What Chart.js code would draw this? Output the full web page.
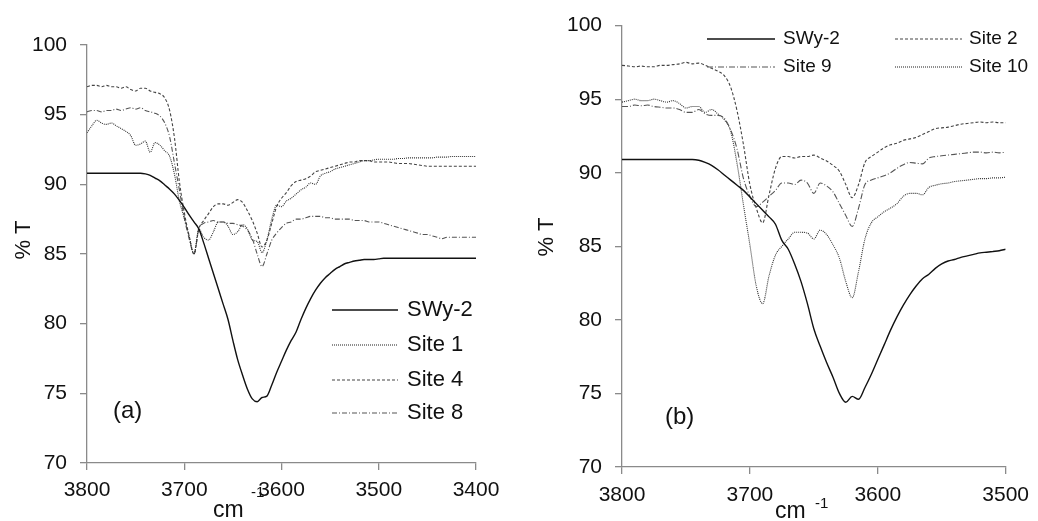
<!DOCTYPE html>
<html>
<head>
<meta charset="utf-8">
<script src="https://cdn.jsdelivr.net/npm/chart.js@4/dist/chart.umd.min.js"></script>
<style>
  html, body { margin: 0; padding: 0; background: #fff; }
  .panel { position: absolute; top: 0; height: 521px; }
  #wrapA { left: 0; width: 520px; }
  #wrapB { left: 520px; width: 518px; }
</style>
</head>
<body>
<div class="panel" id="wrapA"><canvas id="chartA"></canvas></div>
<div class="panel" id="wrapB"><canvas id="chartB"></canvas></div>
<script>
// wavenumbers (cm-1) for panel (a)
const wavenumbersA = [
  3800, 3795, 3790, 3785, 3780, 3775, 3770, 3765, 3760, 3755,
  3750, 3745, 3740, 3735, 3730, 3725, 3720, 3715, 3710, 3705,
  3700, 3695, 3690, 3685, 3680, 3675, 3670, 3665, 3660, 3655,
  3650, 3645, 3640, 3635, 3630, 3625, 3620, 3615, 3610, 3605,
  3600, 3595, 3590, 3585, 3580, 3575, 3570, 3565, 3560, 3555,
  3550, 3545, 3540, 3535, 3530, 3525, 3520, 3515, 3510, 3505,
  3500, 3495, 3490, 3485, 3480, 3475, 3470, 3465, 3460, 3455,
  3450, 3445, 3440, 3435, 3430, 3425, 3420, 3415, 3410, 3405, 3400
];

// % transmittance, panel (a)
const swy2A = [
  90.8, 90.8, 90.8, 90.8, 90.8, 90.8, 90.8, 90.8, 90.8, 90.8,
  90.8, 90.8, 90.75, 90.65, 90.45, 90.25, 89.95, 89.65, 89.3, 88.85,
  88.35, 87.8, 87.3, 86.8, 85.8, 84.7, 83.6, 82.5, 81.4, 80.3,
  78.8, 77.4, 76.3, 75.3, 74.6, 74.4, 74.7, 74.8, 75.6, 76.5,
  77.3, 78.1, 78.8, 79.4, 80.3, 81.1, 81.8, 82.4, 82.9, 83.3,
  83.6, 83.9, 84.1, 84.3, 84.4, 84.5, 84.55, 84.6, 84.6, 84.6,
  84.65, 84.7, 84.7, 84.7, 84.7, 84.7, 84.7, 84.7, 84.7, 84.7,
  84.7, 84.7, 84.7, 84.7, 84.7, 84.7, 84.7, 84.7, 84.7, 84.7, 84.7
];
const site1A = [
  93.7, 94.2, 94.6, 94.4, 94.3, 94.4, 94.2, 94.0, 93.8, 93.5,
  92.8, 92.9, 93.1, 92.3, 93.0, 92.8, 92.4, 92.0, 90.7, 88.8,
  87.6, 86.3, 85.0, 86.8, 86.2, 86.0, 86.6, 87.3, 87.3, 87.0,
  86.4, 86.6, 87.1, 86.8, 86.0, 85.9, 85.1, 86.0, 87.5, 88.5,
  88.4, 88.8, 89.0, 89.3, 89.6, 89.8, 90.1, 90.0, 90.6, 90.8,
  90.9, 91.1, 91.2, 91.3, 91.4, 91.5, 91.6, 91.7, 91.7, 91.75,
  91.8, 91.8, 91.8, 91.8, 91.85, 91.85, 91.9, 91.9, 91.9, 91.9,
  91.9, 91.9, 91.95, 91.95, 91.95, 92.0, 92.0, 92.0, 92.0, 92.0, 92.0
];
const site4A = [
  97.0, 97.1, 97.1, 97.0, 97.1, 97.0, 97.0, 96.9, 97.0, 96.8,
  96.7, 96.9, 96.9, 96.7, 96.6, 96.5, 96.2, 95.3, 93.3, 90.2,
  88.0, 86.3, 85.0, 86.8, 87.4, 87.9, 88.4, 88.6, 88.6, 88.5,
  88.7, 88.9, 88.7, 88.1, 87.4, 86.5, 85.5, 86.0, 87.2, 88.4,
  89.0, 89.4, 89.9, 90.2, 90.3, 90.4, 90.6, 90.9, 91.0, 91.1,
  91.2, 91.3, 91.4, 91.5, 91.6, 91.6, 91.7, 91.7, 91.7, 91.6,
  91.6, 91.6, 91.6, 91.55, 91.5, 91.5, 91.5, 91.45, 91.4, 91.35,
  91.3, 91.3, 91.3, 91.3, 91.3, 91.3, 91.3, 91.3, 91.3, 91.3, 91.3
];
const site8A = [
  95.2, 95.3, 95.3, 95.2, 95.3, 95.3, 95.4, 95.3, 95.4, 95.5,
  95.4, 95.5, 95.3, 95.2, 95.1, 94.9, 94.4, 93.4, 91.5, 89.6,
  87.6, 86.1, 85.0, 86.8, 87.2, 87.3, 87.4, 87.3, 87.3, 87.2,
  87.2, 87.1, 87.0, 86.7, 86.1, 85.0, 84.1, 85.0, 86.0, 86.5,
  86.9, 87.2, 87.3, 87.5, 87.5, 87.6, 87.7, 87.7, 87.7, 87.6,
  87.6, 87.5, 87.5, 87.5, 87.5, 87.4, 87.4, 87.4, 87.3, 87.3,
  87.3, 87.2, 87.1, 87.0, 86.9, 86.8, 86.7, 86.6, 86.5, 86.4,
  86.4, 86.3, 86.2, 86.1, 86.2, 86.2, 86.2, 86.2, 86.2, 86.2, 86.2
];

// wavenumbers (cm-1) for panel (b)
const wavenumbersB = [
  3800, 3795, 3790, 3785, 3780, 3775, 3770, 3765, 3760, 3755,
  3750, 3745, 3740, 3735, 3730, 3725, 3720, 3715, 3710, 3705,
  3700, 3695, 3690, 3685, 3680, 3675, 3670, 3665, 3660, 3655,
  3650, 3645, 3640, 3635, 3630, 3625, 3620, 3615, 3610, 3605,
  3600, 3595, 3590, 3585, 3580, 3575, 3570, 3565, 3560, 3555,
  3550, 3545, 3540, 3535, 3530, 3525, 3520, 3515, 3510, 3505, 3500
];

// % transmittance, panel (b)
const swy2B = [
  90.9, 90.9, 90.9, 90.9, 90.9, 90.9, 90.9, 90.9, 90.9, 90.9,
  90.9, 90.9, 90.85, 90.7, 90.5, 90.2, 89.85, 89.5, 89.15, 88.8,
  88.35, 87.9, 87.45, 87.0, 86.5, 85.4, 84.8, 83.8, 82.6, 81.1,
  79.4, 78.2, 77.1, 76.1, 75.0, 74.4, 74.8, 74.6, 75.4, 76.3,
  77.3, 78.3, 79.3, 80.2, 81.0, 81.7, 82.3, 82.8, 83.1, 83.5,
  83.8, 84.0, 84.1, 84.25, 84.35, 84.45, 84.55, 84.6, 84.65, 84.7, 84.8
];
const site2B = [
  97.3, 97.25, 97.2, 97.25, 97.2, 97.2, 97.3, 97.3, 97.35, 97.4,
  97.5, 97.4, 97.45, 97.3, 97.1, 96.9, 96.6, 95.8, 94.2, 91.9,
  89.2, 87.6, 86.6, 88.5, 90.3, 91.1, 91.1, 91.0, 91.1, 91.1,
  91.2, 91.0, 90.8, 90.5, 90.1, 89.2, 88.3, 89.2, 90.7, 91.1,
  91.4, 91.7, 91.9, 92.0, 92.2, 92.3, 92.4, 92.6, 92.8, 93.0,
  93.05, 93.1, 93.2, 93.3, 93.35, 93.4, 93.45, 93.4, 93.45, 93.4, 93.4
];
const site9B = [
  94.5, 94.5, 94.6, 94.55, 94.6, 94.5, 94.45, 94.4, 94.4, 94.3,
  94.1, 94.1, 94.3, 94.0, 93.9, 93.9, 93.7, 92.9, 91.6, 89.6,
  88.4, 87.7, 88.0, 88.4, 88.8, 89.3, 89.3, 89.2, 89.5, 89.3,
  88.6, 89.3, 89.1, 88.7, 87.9, 87.1, 86.35, 87.6, 89.2, 89.5,
  89.65, 89.8, 90.0, 90.3, 90.55, 90.7, 90.65, 90.6, 91.0, 91.1,
  91.15, 91.2, 91.25, 91.3, 91.35, 91.4, 91.4, 91.35, 91.4, 91.35, 91.4
];
const site10B = [
  94.8, 94.9, 95.0, 94.9, 94.9, 95.0, 94.9, 94.8, 94.9, 94.7,
  94.4, 94.5, 94.5, 94.1, 94.3, 94.0, 93.6, 92.8, 90.6, 87.8,
  85.1, 82.3, 81.1, 83.0, 84.4, 85.0, 85.5, 85.95, 85.95, 85.9,
  85.5, 86.1, 85.8, 85.1, 84.2, 82.6, 81.5, 83.3, 85.5, 86.6,
  87.0, 87.35, 87.6, 87.9, 88.4, 88.6, 88.6, 88.5, 89.0, 89.15,
  89.25, 89.3, 89.4, 89.45, 89.5, 89.55, 89.6, 89.6, 89.65, 89.65, 89.7
];

const FONT = '"Liberation Sans", Arial, sans-serif';
Chart.defaults.font.family = FONT;
Chart.defaults.color = '#111';

const AXIS_GREY = '#8a8a8a';

function series(label, xs, ys, style) {
  return Object.assign({
    label,
    data: xs.map((x, i) => ({ x, y: ys[i] })),
    borderColor: '#444',
    borderWidth: 1,
    pointRadius: 0,
    fill: false,
    cubicInterpolationMode: 'monotone'
  }, style);
}

const solid = { borderColor: '#111', borderWidth: 1.4 };
const fineDots = { borderColor: '#333', borderWidth: 1.1, borderDash: [1, 1] };
const dashes = { borderColor: '#444', borderWidth: 1.1, borderDash: [3, 2] };
const dashDot = { borderColor: '#555', borderWidth: 1.1, borderDash: [5, 2, 1, 2] };

function scales(xMin, xMax, yWidth, xHeight, xPad) {
  const grid = { drawOnChartArea: false, drawTicks: true, tickLength: 7, color: AXIS_GREY, lineWidth: 1.3 };
  const border = { color: AXIS_GREY, width: 1.3 };
  return {
    x: {
      type: 'linear', reverse: true, min: xMin, max: xMax,
      ticks: {
        stepSize: 100, padding: xPad, maxRotation: 0, autoSkip: false,
        font: { size: 21 }, color: '#111',
        callback: v => String(v)
      },
      grid, border,
      afterFit: s => { s.height = xHeight; }
    },
    y: {
      min: 70, max: 100,
      ticks: { stepSize: 5, padding: 13, font: { size: 21 }, color: '#111' },
      grid, border,
      afterFit: s => { s.width = yWidth; }
    }
  };
}

// axis titles, panel letter and an in-plot legend
const decor = {
  id: 'decor',
  afterDraw(chart, args, o) {
    const ctx = chart.ctx;
    ctx.save();
    ctx.fillStyle = '#111';

    ctx.font = '22px ' + FONT;
    ctx.textAlign = 'center';
    ctx.textBaseline = 'middle';
    ctx.save();
    ctx.translate(o.yTitle[0], o.yTitle[1]);
    ctx.rotate(-Math.PI / 2);
    ctx.fillText('% T', 0, 0);
    ctx.restore();

    ctx.textAlign = 'left';
    ctx.textBaseline = 'alphabetic';
    ctx.font = '23px ' + FONT;
    ctx.fillText('cm', o.cm[0], o.cm[1]);
    ctx.font = '15px ' + FONT;
    ctx.fillText('-1', o.sup[0], o.sup[1]);

    ctx.font = '24px ' + FONT;
    ctx.textBaseline = 'middle';
    ctx.fillText(o.tag, o.tagPos[0], o.tagPos[1]);

    ctx.font = o.legendFont + 'px ' + FONT;
    o.legend.forEach(item => {
      const ds = chart.data.datasets[item.index];
      ctx.save();
      ctx.strokeStyle = ds.borderColor;
      ctx.lineWidth = ds.borderWidth;
      ctx.setLineDash(ds.borderDash || []);
      ctx.beginPath();
      ctx.moveTo(item.x0, item.y);
      ctx.lineTo(item.x1, item.y);
      ctx.stroke();
      ctx.restore();
      ctx.fillText(ds.label, item.tx, item.y);
    });
    ctx.restore();
  }
};

new Chart(document.getElementById('chartA'), {
  type: 'line',
  data: {
    datasets: [
      series('SWy-2', wavenumbersA, swy2A, solid),
      series('Site 1', wavenumbersA, site1A, fineDots),
      series('Site 4', wavenumbersA, site4A, dashes),
      series('Site 8', wavenumbersA, site8A, dashDot)
    ]
  },
  options: {
    responsive: true,
    maintainAspectRatio: false,
    animation: false,
    layout: { padding: { left: 0, top: 45, right: 44, bottom: 0 } },
    scales: scales(3400, 3800, 87, 58, 8),
    plugins: {
      legend: { display: false },
      tooltip: { enabled: false },
      decor: {
        yTitle: [24, 240],
        cm: [213, 517],
        sup: [251, 497],
        tag: '(a)',
        tagPos: [113, 411],
        legendFont: 22,
        legend: [
          { index: 0, x0: 332, x1: 398, tx: 407, y: 310 },
          { index: 1, x0: 332, x1: 398, tx: 407, y: 345 },
          { index: 2, x0: 332, x1: 398, tx: 407, y: 380 },
          { index: 3, x0: 332, x1: 398, tx: 407, y: 413 }
        ]
      }
    }
  },
  plugins: [decor]
});

new Chart(document.getElementById('chartB'), {
  type: 'line',
  data: {
    datasets: [
      series('SWy-2', wavenumbersB, swy2B, solid),
      series('Site 9', wavenumbersB, site9B, { borderColor: '#555', borderWidth: 1.1, borderDash: [6, 2, 1, 2] }),
      series('Site 2', wavenumbersB, site2B, dashes),
      series('Site 10', wavenumbersB, site10B, fineDots)
    ]
  },
  options: {
    responsive: true,
    maintainAspectRatio: false,
    animation: false,
    layout: { padding: { left: 0, top: 23, right: 25, bottom: 0 } },
    scales: scales(3500, 3800, 102, 54, 9),
    plugins: {
      legend: { display: false },
      tooltip: { enabled: false },
      decor: {
        yTitle: [27, 237],
        cm: [255, 518],
        sup: [295, 508],
        tag: '(b)',
        tagPos: [145, 417],
        legendFont: 19,
        legend: [
          { index: 0, x0: 187, x1: 255, tx: 263, y: 39 },
          { index: 1, x0: 187, x1: 255, tx: 263, y: 67 },
          { index: 2, x0: 375, x1: 442, tx: 449, y: 39 },
          { index: 3, x0: 375, x1: 442, tx: 449, y: 67 }
        ]
      }
    }
  },
  plugins: [decor]
});
</script>
</body>
</html>
